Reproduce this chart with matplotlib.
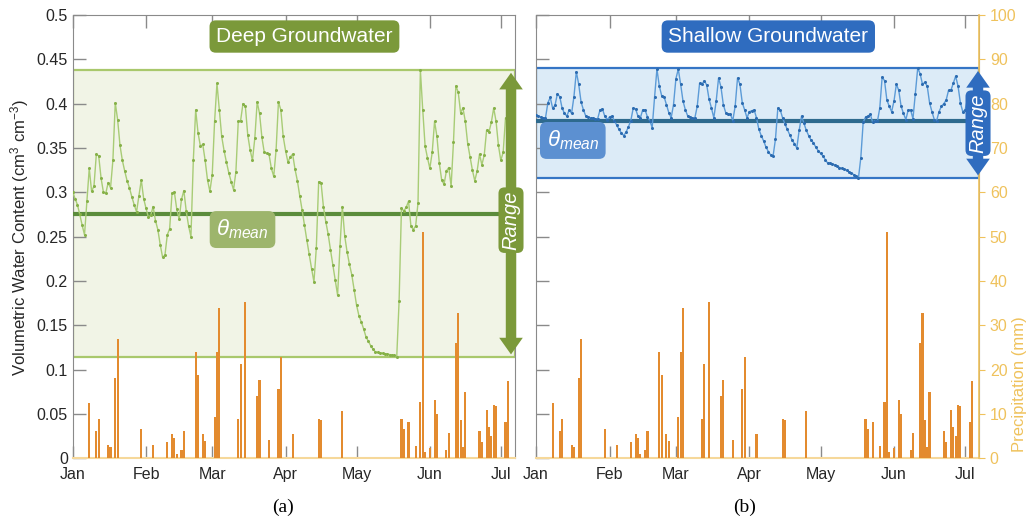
import numpy as np
import pandas as pd
import matplotlib
matplotlib.use("Agg")
import matplotlib.pyplot as plt
import matplotlib.dates as mdates
import matplotlib.transforms as mtransforms
from matplotlib.patches import FancyArrowPatch
from matplotlib.ticker import FuncFormatter

plt.rcParams['font.family'] = ['Liberation Sans', 'DejaVu Sans']
plt.rcParams['mathtext.fontset'] = 'custom'
plt.rcParams['mathtext.rm'] = 'Liberation Sans'
plt.rcParams['mathtext.it'] = 'Liberation Sans:italic'

start = pd.Timestamp('2019-01-01')

# daily volumetric water content, Jan 1 .. Jul 5
deep_vwc = [
    0.300, 0.293, 0.286, 0.275, 0.263, 0.252, 0.290, 0.327, 0.301, 0.307,
    0.343, 0.341, 0.316, 0.300, 0.299, 0.311, 0.305, 0.336, 0.401, 0.382,
    0.353, 0.336, 0.324, 0.313, 0.305, 0.295, 0.286, 0.278, 0.296, 0.314,
    0.293, 0.282, 0.272, 0.274, 0.284, 0.268, 0.258, 0.241, 0.227, 0.229,
    0.252, 0.259, 0.299, 0.300, 0.281, 0.270, 0.292, 0.302, 0.279, 0.262,
    0.250, 0.336, 0.393, 0.367, 0.352, 0.354, 0.336, 0.314, 0.301, 0.320,
    0.380, 0.423, 0.393, 0.363, 0.347, 0.334, 0.322, 0.312, 0.303, 0.323,
    0.380, 0.381, 0.400, 0.397, 0.365, 0.348, 0.336, 0.361, 0.402, 0.389,
    0.362, 0.345, 0.344, 0.343, 0.327, 0.318, 0.348, 0.402, 0.393, 0.363,
    0.347, 0.334, 0.340, 0.343, 0.326, 0.313, 0.296, 0.280, 0.263, 0.246,
    0.230, 0.214, 0.199, 0.237, 0.312, 0.311, 0.284, 0.267, 0.253, 0.235,
    0.218, 0.201, 0.184, 0.239, 0.284, 0.251, 0.233, 0.219, 0.207, 0.190,
    0.173, 0.161, 0.154, 0.146, 0.137, 0.132, 0.127, 0.123, 0.120, 0.1195,
    0.119, 0.1185, 0.118, 0.1175, 0.117, 0.1165, 0.116, 0.114, 0.177, 0.282,
    0.279, 0.283, 0.290, 0.262, 0.258, 0.262, 0.288, 0.438, 0.393, 0.352,
    0.339, 0.327, 0.345, 0.380, 0.363, 0.333, 0.314, 0.309, 0.324, 0.328,
    0.307, 0.357, 0.420, 0.413, 0.390, 0.395, 0.380, 0.355, 0.340, 0.325,
    0.313, 0.324, 0.343, 0.331, 0.342, 0.370, 0.368, 0.379, 0.395, 0.380,
    0.353, 0.336, 0.345, 0.384, 0.381, 0.354,
]
shallow_vwc = [
    0.387, 0.386, 0.385, 0.384, 0.384, 0.401, 0.407, 0.395, 0.398, 0.411,
    0.408, 0.395, 0.389, 0.386, 0.393, 0.389, 0.408, 0.436, 0.422, 0.402,
    0.393, 0.386, 0.385, 0.384, 0.384, 0.383, 0.383, 0.393, 0.394, 0.386,
    0.382, 0.385, 0.386, 0.381, 0.376, 0.371, 0.367, 0.364, 0.368, 0.374,
    0.381, 0.395, 0.394, 0.386, 0.384, 0.393, 0.393, 0.385, 0.381, 0.373,
    0.407, 0.439, 0.420, 0.409, 0.408, 0.399, 0.390, 0.384, 0.399, 0.428,
    0.439, 0.422, 0.403, 0.393, 0.386, 0.385, 0.384, 0.384, 0.397, 0.423,
    0.422, 0.426, 0.421, 0.405, 0.395, 0.384, 0.403, 0.429, 0.419, 0.399,
    0.390, 0.388, 0.388, 0.381, 0.397, 0.429, 0.422, 0.401, 0.393, 0.384,
    0.391, 0.392, 0.393, 0.384, 0.371, 0.364, 0.358, 0.351, 0.346, 0.342,
    0.341, 0.360, 0.395, 0.393, 0.384, 0.377, 0.371, 0.365, 0.359, 0.355,
    0.350, 0.370, 0.386, 0.378, 0.370, 0.364, 0.359, 0.356, 0.351, 0.347,
    0.344, 0.341, 0.337, 0.333, 0.333, 0.332, 0.331, 0.330, 0.328, 0.327,
    0.326, 0.325, 0.323, 0.322, 0.320, 0.318, 0.316, 0.339, 0.379, 0.385,
    0.386, 0.388, 0.379, 0.381, 0.380, 0.395, 0.430, 0.426, 0.404, 0.397,
    0.391, 0.403, 0.422, 0.415, 0.397, 0.389, 0.382, 0.393, 0.393, 0.383,
    0.411, 0.440, 0.434, 0.422, 0.424, 0.420, 0.401, 0.391, 0.382, 0.381,
    0.391, 0.397, 0.400, 0.404, 0.415, 0.415, 0.423, 0.431, 0.420, 0.401,
    0.391, 0.393, 0.405, 0.410, 0.398, 0.390,
]
deep_mean = 0.276
shallow_mean = 0.380

# daily precipitation (day index from Jan 1, mm)
rain_day = [7, 10, 11, 15, 16, 18, 19, 29, 34, 40,
            42, 43, 44, 46, 47, 52, 53, 55, 56, 60,
            61, 62, 70, 71, 73, 78, 79, 83, 87, 88,
            93, 104, 105, 114, 139, 140, 142, 145, 147, 148,
            149, 151, 153, 154, 158, 159, 162, 163, 164, 165,
            166, 172, 173, 175, 176, 177, 178, 179, 183, 184]
rain_mm = [12.5, 6.1, 8.8, 3.0, 2.6, 18.2, 27.0, 6.6, 3.0, 3.7,
           5.4, 4.6, 1.0, 1.9, 6.1, 23.9, 18.8, 5.4, 4.0, 9.3,
           24.0, 33.8, 8.8, 21.3, 35.2, 14.0, 17.7, 4.1, 15.7, 22.8,
           5.4, 8.8, 8.6, 10.7, 8.8, 6.7, 8.1, 2.8, 12.7, 51.0,
           1.5, 2.4, 13.2, 9.9, 1.9, 5.8, 26.0, 32.8, 8.7, 2.6,
           14.9, 6.2, 3.6, 11.0, 7.1, 5.1, 12.1, 11.9, 8.1, 17.5]

vwc_ticks = np.arange(0, 0.501, 0.05)
rain_ticks = np.arange(0, 101, 10)

GREY = '#8a8a8a'
TXT = '#262626'
BAR = '#E38B2F'
BASE = '#F6D89A'
PRCP = '#EFC25C'


def draw_panel(ax, vwc, mean, c, title, show_left, show_right, lab_pos, xa):
	days = start + pd.to_timedelta(np.arange(len(vwc)), 'D')
	lo, hi = min(vwc), max(vwc)
	ax.axhspan(lo, hi, fc=c['fill'], ec=c['edge'], lw=1.6, zorder=1)
	ax.axhline(mean, color=c['mean'], lw=3, zorder=3)
	ax.plot(days, vwc, color=c['line'], lw=1.0, marker='o', ms=2.2,
			mfc=c['dot'], mec='none', zorder=4)

	ax.set_ylim(0, 0.5)
	ax.set_xlim(start, start + pd.Timedelta(days=187))
	ax.set_yticks(vwc_ticks)
	ax.yaxis.set_major_formatter(FuncFormatter(lambda v, p: '%g' % round(v, 2)))
	ax.xaxis.set_major_locator(mdates.MonthLocator())
	ax.xaxis.set_major_formatter(mdates.DateFormatter('%b'))
	ax.tick_params(axis='x', direction='in', top=True, length=9, width=1,
				   color=GREY, labelcolor=TXT, labelsize=11.5, pad=6)
	ax.tick_params(axis='y', direction='in', length=9, width=1, color=GREY,
				   labelcolor=TXT, labelsize=11.5, labelleft=show_left, right=False)
	for s in ['left', 'top', 'right']:
		ax.spines[s].set_color(GREY)
	ax.spines['bottom'].set_color(BASE)
	ax.spines['bottom'].set_linewidth(1.5)

	# precipitation on twin axis
	ax2 = ax.twinx()
	rdates = start + pd.to_timedelta(np.array(rain_day), 'D')
	ax2.bar(rdates, rain_mm, width=0.9, color=BAR, zorder=2)
	ax2.set_ylim(0, 100)
	for s in ['left', 'top', 'bottom']:
		ax2.spines[s].set_visible(False)
	if show_right:
		ax2.spines['right'].set_color(PRCP)
		ax2.spines['right'].set_linewidth(1.2)
		ax2.set_yticks(rain_ticks)
		ax2.tick_params(axis='y', direction='out', length=4, color=PRCP,
						labelcolor=PRCP, labelsize=11.5)
		ax2.set_ylabel('Precipitation (mm)', color=PRCP, fontsize=12)
		ax2.yaxis.set_label_coords(1.074, 0.168)
	else:
		ax2.spines['right'].set_visible(False)
		ax2.set_yticks([])

	# title box
	ax2.text(0.524, 0.9515, title, transform=ax.transAxes, ha='center', va='center',
			 color='white', fontsize=15, zorder=10,
			 bbox=dict(boxstyle='round,pad=0.32,rounding_size=0.3', fc=c['title'], ec='none'))
	# mean label
	ax2.text(lab_pos[0], lab_pos[1], r'$\theta_{mean}$', transform=ax.transAxes,
			 ha='center', va='center', color='white', fontsize=16, zorder=10,
			 bbox=dict(boxstyle='round,pad=0.3,rounding_size=0.3', fc=c['lab'], ec='none'))

	# range arrow at right edge
	tr = mtransforms.blended_transform_factory(ax.transAxes, ax.transData)
	mid = (lo + hi) / 2
	for end in (hi, lo):
		arr = FancyArrowPatch((xa, mid), (xa, end), transform=tr,
							  arrowstyle='simple,head_width=1.7,head_length=1.2,tail_width=0.75',
							  mutation_scale=10, fc=c['title'], ec='none',
							  clip_on=False, zorder=11)
		ax2.add_patch(arr)
	return ax2, tr


fig = plt.figure(figsize=(10.31, 5.18), dpi=100)
axL = fig.add_axes([0.0705, 0.1153, 0.4290, 0.8557])
axR = fig.add_axes([0.5199, 0.1153, 0.4300, 0.8557])

deep_c = dict(fill='#F1F4E6', edge='#A9C86C', mean='#5B8C3C', line='#A8CC76',
			  dot='#86B148', title='#7B993A', lab='#9DB56C')
shallow_c = dict(fill='#DCEBF7', edge='#3575C5', mean='#2E6A8E', line='#5C9BD7',
				 dot='#2C6BB0', title='#2F6CBF', lab='#5C90D1')

a2L, trL = draw_panel(axL, deep_vwc, deep_mean, deep_c, 'Deep Groundwater',
					  True, False, (0.384, 0.516), 0.991)
a2R, trR = draw_panel(axR, shallow_vwc, shallow_mean, shallow_c, 'Shallow Groundwater',
					  False, True, (0.083, 0.717), 0.997)

# "Range" labels
a2L.text(0.991, 0.2686, 'Range', transform=trL, rotation=90, ha='center', va='center',
		 color='white', fontsize=14.5, style='italic', zorder=12,
		 bbox=dict(boxstyle='round,pad=0.15,rounding_size=0.3', fc=deep_c['title'], ec='none'))
a2R.text(0.997, 0.378, 'Range', transform=trR, rotation=90, ha='center', va='center',
		 color='white', fontsize=14.5, style='italic', zorder=12,
		 bbox=dict(boxstyle='round,pad=0.15,rounding_size=0.3', fc=shallow_c['title'], ec='none'))

axL.set_ylabel('Volumetric Water Content (cm$^3$ cm$^{-3}$)', fontsize=12, color=TXT)
axL.yaxis.set_label_coords(-0.095, 0.497)

fig.text(0.2745, 0.021, '(a)', family=['Liberation Serif', 'DejaVu Serif'], fontsize=14,
		 ha='center', va='center')
fig.text(0.7226, 0.021, '(b)', family=['Liberation Serif', 'DejaVu Serif'], fontsize=14,
		 ha='center', va='center')

fig.savefig('out.png', dpi=100)
